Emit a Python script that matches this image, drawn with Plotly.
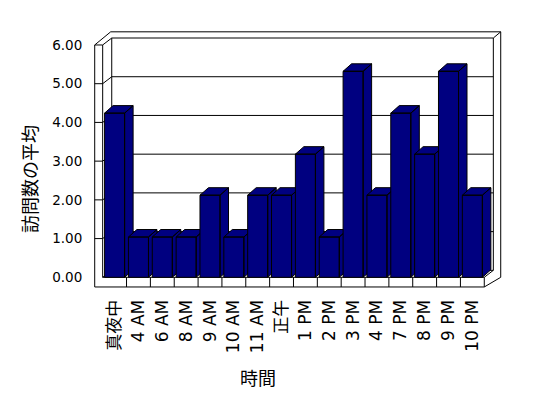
import plotly.graph_objects as go

# ---- data ----
categories = ["真夜中", "4 AM", "6 AM", "8 AM", "9 AM", "10 AM", "11 AM", "正午",
              "1 PM", "2 PM", "3 PM", "4 PM", "7 PM", "8 PM", "9 PM", "10 PM"]
values = [4.24, 1.04, 1.04, 1.04, 2.12, 1.04, 2.12, 2.12,
          3.18, 1.04, 5.32, 2.12, 4.24, 3.18, 5.32, 2.12]
y_ticks = [0, 1, 2, 3, 4, 5, 6]
y_tick_labels = ["0.00", "1.00", "2.00", "3.00", "4.00", "5.00", "6.00"]
x_title = "時間"
y_title = "訪問数の平均"

# ---- geometry (oblique 3D look) ----
N = len(categories)
YMAX = 6.0
DX, DY = 0.38, 0.18          # depth offset of walls (category units, value units)
BDX, BDY = 0.356, 0.194      # depth offset of bars
HW = 0.42                    # half width of bar front face
XL_OUT = -0.834              # outer edge of left wall
FLOOR_B = -0.25              # bottom of floor front face
TOP_OUT = 6.34               # outer top edge of back wall
XR_OUT = N - 0.5 + 0.69      # outer right edge
XL = -0.5
XR = N - 0.5

NAVY = "#000080"
FONT = "DejaVu Sans, Noto Sans CJK JP"
CJK = "Noto Sans CJK JP"

fig = go.Figure()

# frame lines
fx, fy = [], []
def seg(pts):
    for (a, b) in pts:
        fx.append(a); fy.append(b)
    fx.append(None); fy.append(None)

# left wall + floor front (L shape)
seg([(XL_OUT, YMAX), (XL_OUT, FLOOR_B), (XR, FLOOR_B), (XR, 0), (XL, 0), (XL, YMAX), (XL_OUT, YMAX)])
# floor dividers
for k in range(1, N):
    seg([(k - 0.5, FLOOR_B), (k - 0.5, 0)])
# left wall ticks, diagonals and back wall gridlines
for v in y_ticks:
    if 0 < v < YMAX:
        seg([(XL_OUT, v), (XL, v)])
    seg([(XL, v), (XL + DX, v + DY), (XR + DX, v + DY)])
# back wall left inner edge / right inner edge
seg([(XL + DX, DY), (XL + DX, YMAX + DY)])
seg([(XR + DX, YMAX + DY), (XR + DX, DY), (XR, 0)])
# outer top / right
seg([(XL_OUT, YMAX), (XL + 0.336, TOP_OUT), (XR_OUT, TOP_OUT), (XR + DX, YMAX + DY)])
seg([(XR_OUT, TOP_OUT), (XR_OUT, 0), (XR, FLOOR_B)])

fig.add_trace(go.Scatter(x=fx, y=fy, mode="lines", line=dict(color="black", width=1),
                         hoverinfo="skip", showlegend=False, cliponaxis=False))

# bars: front, side, top faces, drawn left to right
for i, v in enumerate(values):
    xs, ys = [], []
    faces = [
        [(i - HW, 0), (i + HW, 0), (i + HW, v), (i - HW, v)],
        [(i + HW, 0), (i + HW + BDX, BDY), (i + HW + BDX, v + BDY), (i + HW, v)],
        [(i - HW, v), (i + HW, v), (i + HW + BDX, v + BDY), (i - HW + BDX, v + BDY)],
    ]
    for f in faces:
        for (a, b) in f + [f[0]]:
            xs.append(a); ys.append(b)
        xs.append(None); ys.append(None)
    fig.add_trace(go.Scatter(x=xs, y=ys, mode="lines", fill="toself", fillcolor=NAVY,
                             line=dict(color="black", width=1), hoverinfo="skip",
                             showlegend=False, cliponaxis=False))

# page has an 8px body margin; figure coordinates = screen - 8
OFF = 8
W, H = 540, 390
X0PX, XSTEP = 114.6 - OFF, 23.85
Y0PX, YSTEP = 277.3 - OFF, 38.72
L, R, T, B = 90 - OFF, 508 - OFF, 25 - OFF, 290 - OFF
x0 = (L - X0PX) / XSTEP
x1 = (R - X0PX) / XSTEP
y0 = (Y0PX - B) / YSTEP
y1 = (Y0PX - T) / YSTEP

fig.update_layout(
    width=W, height=H,
    margin=dict(l=L, r=W - R, t=T, b=H - B, pad=0, autoexpand=False),
    paper_bgcolor="white", plot_bgcolor="white",
    font=dict(family=FONT, color="black", size=16),
    xaxis=dict(range=[x0, x1], showgrid=False, zeroline=False, showline=False,
               automargin=False,
               tickmode="array", tickvals=list(range(N)), ticktext=categories,
               tickangle=-90, ticks="outside", ticklen=2, tickcolor="rgba(0,0,0,0)",
               tickfont=dict(size=17, family=FONT)),
    yaxis=dict(range=[y0, y1], showgrid=False, zeroline=False, showline=False,
               automargin=False,
               tickmode="array", tickvals=y_ticks, ticktext=y_tick_labels,
               ticks="outside", ticklen=4, tickcolor="rgba(0,0,0,0)",
               tickfont=dict(size=13.5, family=FONT)),
    annotations=[
        dict(text=x_title, xref="paper", yref="paper", x=(258 - OFF - L) / (R - L),
             y=(B - (377 - OFF)) / (B - T), showarrow=False, xanchor="center", yanchor="middle",
             font=dict(size=18, family=CJK)),
        dict(text=y_title, xref="paper", yref="paper", x=(29 - OFF - L) / (R - L),
             y=(B - (179 - OFF)) / (B - T), showarrow=False, xanchor="center", yanchor="middle",
             textangle=-90, font=dict(size=18, family=CJK)),
    ],
)

fig.write_html("out.html")
